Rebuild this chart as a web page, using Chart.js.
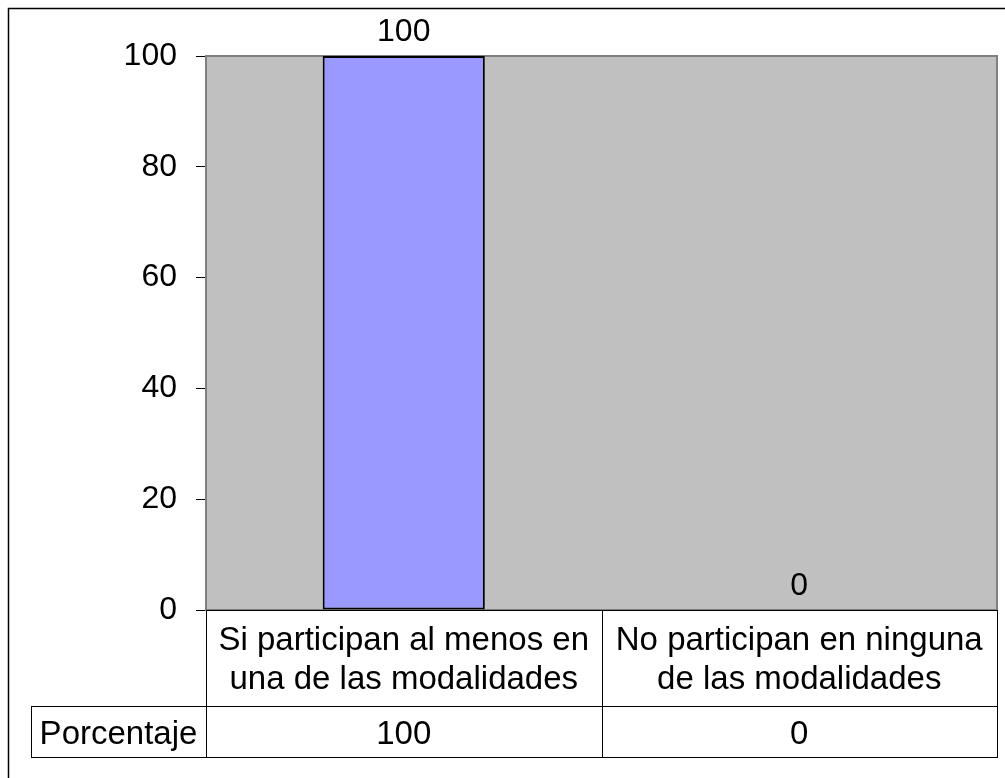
<!DOCTYPE html>
<html>
<head>
<meta charset="utf-8">
<script src="https://cdn.jsdelivr.net/npm/chart.js@4/dist/chart.umd.min.js"></script>
<style>
  html, body { margin: 0; padding: 0; background: #fff; }
  #wrap { width: 1005px; height: 778px; position: relative; }
</style>
</head>
<body>
<div id="wrap"><canvas id="c"></canvas></div>
<script>
const categories = [
  ["Si participan al menos en", "una de las modalidades"],
  ["No participan en ninguna", "de las modalidades"]
];
const seriesName = "Porcentaje";
const seriesValues = [100, 0];
const yTicks = [0, 20, 40, 60, 80, 100];

const FONT = "'Liberation Sans', Arial, sans-serif";
Chart.defaults.font.family = FONT;

const decorPlugin = {
  id: 'decor',
  beforeDatasetsDraw(chart) {
    const ctx = chart.ctx, a = chart.chartArea;
    ctx.save();
    // outer chart frame
    ctx.strokeStyle = '#000';
    ctx.lineWidth = 1.5;
    ctx.strokeRect(8.5, 8.5, 1010, 800);
    // plot area
    ctx.fillStyle = '#C0C0C0';
    ctx.fillRect(a.left, a.top, a.right - a.left, a.bottom - a.top);
    ctx.strokeStyle = '#808080';
    ctx.lineWidth = 2;
    ctx.strokeRect(a.left, a.top, a.right - a.left, a.bottom - a.top);
    ctx.restore();
  },
  afterDatasetsDraw(chart) {
    const ctx = chart.ctx, a = chart.chartArea;
    const xs = chart.scales.x;
    const meta = chart.getDatasetMeta(0);
    ctx.save();
    // data labels
    ctx.fillStyle = '#000';
    ctx.font = '32px ' + FONT;
    ctx.textAlign = 'center';
    ctx.textBaseline = 'alphabetic';
    meta.data.forEach((bar, i) => {
      ctx.fillText(String(seriesValues[i]), bar.x, bar.y - 15);
    });

    // data table
    const n = categories.length;
    const bounds = [a.left];
    for (let i = 0; i < n - 1; i++) {
      bounds.push((xs.getPixelForValue(i) + xs.getPixelForValue(i + 1)) / 2);
    }
    bounds.push(a.right);
    const row1Top = a.bottom, row1Bot = a.bottom + 96, row2Bot = row1Bot + 51;
    const headLeft = 31;

    ctx.strokeStyle = '#000';
    ctx.lineWidth = 1;
    const line = (x1, y1, x2, y2) => {
      ctx.beginPath(); ctx.moveTo(x1, y1); ctx.lineTo(x2, y2); ctx.stroke();
    };
    // x axis line
    line(a.left, Math.round(row1Top) + 0.5, a.right, Math.round(row1Top) + 0.5);
    line(headLeft, row1Bot + 0.5, a.right, row1Bot + 0.5);
    line(headLeft, row2Bot + 0.5, a.right, row2Bot + 0.5);
    line(headLeft + 0.5, row1Bot, headLeft + 0.5, row2Bot);
    bounds.forEach(b => {
      const x = Math.round(b) + 0.5;
      line(x, row1Top, x, row2Bot + 1);
    });

    // texts
    ctx.font = '33px ' + FONT;
    ctx.fillStyle = '#000';
    ctx.textAlign = 'center';
    categories.forEach((lines, i) => {
      const cx = (bounds[i] + bounds[i + 1]) / 2;
      lines.forEach((t, k) => {
        ctx.fillText(t, cx, row1Top + 40 + k * 39);
      });
      ctx.fillText(String(seriesValues[i]), cx, row1Bot + 38);
    });
    ctx.fillText(seriesName, (headLeft + a.left) / 2, row1Bot + 38);
    ctx.restore();
  }
};

new Chart(document.getElementById('c'), {
  type: 'bar',
  data: {
    labels: categories.map(c => c.join(' ')),
    datasets: [{
      label: seriesName,
      data: seriesValues,
      backgroundColor: '#9999FF',
      borderColor: '#000',
      borderWidth: 2,
      borderSkipped: false,
      categoryPercentage: 1,
      barPercentage: 0.41
    }]
  },
  options: {
    responsive: true,
    maintainAspectRatio: false,
    animation: false,
    layout: { padding: { left: 0, top: 56, right: 8, bottom: 168 } },
    plugins: {
      legend: { display: false },
      tooltip: { enabled: false },
      title: { display: false }
    },
    scales: {
      x: { type: 'category', display: false, offset: true },
      y: {
        min: 0, max: 100,
        afterFit(s) { s.width = 206; },
        afterBuildTicks(s) { s.ticks = yTicks.map(v => ({ value: v })); },
        ticks: { stepSize: 20, color: '#000', font: { size: 32 }, padding: 19 },
        grid: { drawOnChartArea: false, drawTicks: true, tickLength: 10, color: '#000' },
        border: { display: true, color: '#000', width: 1 }
      }
    }
  },
  plugins: [decorPlugin]
});
</script>
</body>
</html>
